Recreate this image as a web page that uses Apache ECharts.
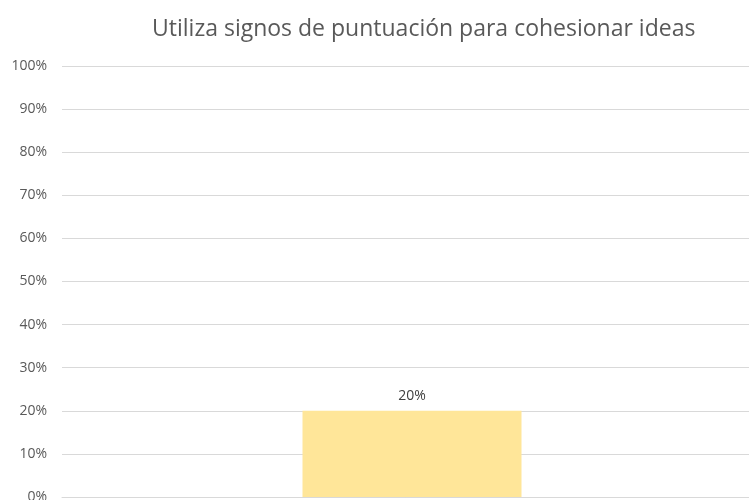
<!DOCTYPE html>
<html>
<head>
<meta charset="utf-8">
<script src="https://cdn.jsdelivr.net/npm/echarts@6/dist/echarts.min.js"></script>
<style>
  html, body { margin: 0; padding: 0; background: #fff; }
  #chart { width: 749px; height: 500px; }
</style>
</head>
<body>
<div id="chart"></div>
<script>
var categories = ['Sí'];
var values = [20];
var yTicks = [0, 10, 20, 30, 40, 50, 60, 70, 80, 90, 100];

var chart = echarts.init(document.getElementById('chart'));
var option = {
  animation: false,
  title: {
    text: 'Utiliza signos de puntuación para cohesionar ideas',
    left: 147,
    top: 13,
    textStyle: { fontFamily: 'Open Sans', fontSize: 23, fontWeight: 'normal', color: '#595959' }
  },
  grid: { left: 62, top: 66, width: 700, height: 431, containLabel: false, outerBoundsMode: 'none' },
  xAxis: {
    type: 'category',
    data: categories,
    axisLine: { lineStyle: { color: '#d9d9d9' } },
    axisTick: { show: false },
    axisLabel: { show: false }
  },
  yAxis: {
    type: 'value',
    min: yTicks[0],
    max: yTicks[yTicks.length - 1],
    interval: 10,
    axisLine: { show: false },
    axisTick: { show: false },
    axisLabel: {
      formatter: '{value}%',
      margin: 15,
      fontFamily: 'Open Sans',
      fontSize: 14,
      color: '#595959'
    },
    splitLine: { lineStyle: { color: '#d9d9d9' } }
  },
  series: [{
    type: 'bar',
    data: values,
    barWidth: 219,
    itemStyle: { color: '#FFE699' },
    label: {
      show: true,
      position: 'top',
      distance: 8,
      formatter: '{c}%',
      fontFamily: 'Open Sans',
      fontSize: 14,
      color: '#404040'
    }
  }]
};
chart.setOption(option);
</script>
</body>
</html>
